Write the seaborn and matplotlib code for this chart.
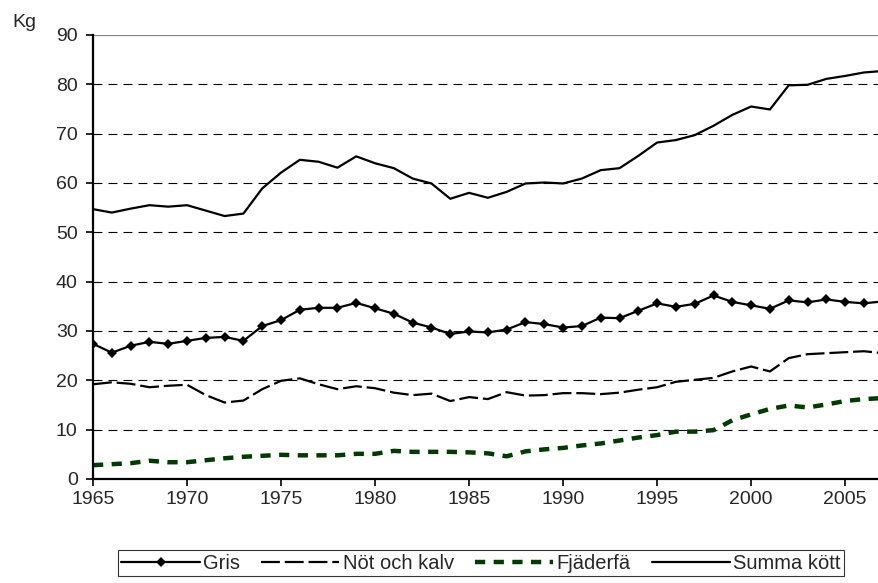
import pandas as pd
import matplotlib
matplotlib.use("Agg")
import matplotlib.pyplot as plt
import seaborn as sns

# Meat consumption per person, kg
years = list(range(1965, 2008))

gris = [27.4, 25.6, 27.0, 27.8, 27.4, 28.0, 28.6, 28.8, 28.0, 31.0,
        32.2, 34.3, 34.7, 34.7, 35.7, 34.6, 33.5, 31.7, 30.7, 29.4,
        29.9, 29.7, 30.3, 31.8, 31.4, 30.7, 31.0, 32.7, 32.6, 34.1,
        35.6, 34.9, 35.5, 37.2, 35.9, 35.2, 34.5, 36.2, 35.8, 36.4,
        35.9, 35.6, 36.0]

not_kalv = [19.2, 19.6, 19.3, 18.6, 18.9, 19.1, 17.0, 15.5, 15.9, 18.2,
            19.9, 20.4, 19.2, 18.2, 18.8, 18.4, 17.5, 17.0, 17.3, 15.8,
            16.6, 16.2, 17.6, 16.9, 17.0, 17.4, 17.4, 17.2, 17.5, 18.1,
            18.6, 19.7, 20.1, 20.5, 21.8, 22.8, 21.8, 24.5, 25.3, 25.5,
            25.7, 25.9, 25.5]

fjaderfa = [2.8, 3.0, 3.2, 3.7, 3.4, 3.4, 3.8, 4.2, 4.5, 4.7,
            4.9, 4.8, 4.8, 4.8, 5.1, 5.1, 5.7, 5.5, 5.5, 5.5,
            5.4, 5.2, 4.6, 5.6, 6.0, 6.3, 6.8, 7.2, 7.8, 8.4,
            8.9, 9.6, 9.6, 9.9, 11.9, 13.1, 14.2, 14.9, 14.5, 15.1,
            15.8, 16.2, 16.4]

summa = [54.7, 54.0, 54.8, 55.5, 55.2, 55.5, 54.4, 53.3, 53.8, 58.9,
         62.1, 64.7, 64.3, 63.1, 65.4, 64.0, 63.0, 60.9, 59.9, 56.8,
         58.0, 57.0, 58.2, 59.9, 60.1, 59.9, 60.9, 62.6, 63.0, 65.5,
         68.2, 68.7, 69.7, 71.6, 73.8, 75.5, 74.9, 79.8, 79.9, 81.1,
         81.7, 82.4, 82.7]

df = pd.DataFrame({"year": years, "Gris": gris, "Nöt och kalv": not_kalv,
                   "Fjäderfä": fjaderfa, "Summa kött": summa})

sns.set_style("white")
plt.rcParams["font.family"] = ["Liberation Sans", "DejaVu Sans"]

fig = plt.figure(figsize=(8.79, 5.83), dpi=100)
ax = fig.add_axes([0.1058, 0.1784, 0.8942, 0.7616])

# gridlines
for v in range(10, 90, 10):
    ax.axhline(v, color="black", lw=0.8, ls=(0, (8, 5.5)), zorder=0)
ax.axhline(90, color="#808080", lw=1.6, zorder=0)

sns.lineplot(data=df, x="year", y="Gris", ax=ax, color="black", lw=1.6,
             marker="D", markersize=5.5, markeredgewidth=0, label="Gris")
sns.lineplot(data=df, x="year", y="Nöt och kalv", ax=ax, color="black",
             lw=1.6, label="Nöt och kalv")
ax.lines[-1].set_linestyle((0, (8.5, 2.2)))
sns.lineplot(data=df, x="year", y="Fjäderfä", ax=ax, color="#003a00",
             lw=3.2, label="Fjäderfä")
ax.lines[-1].set_linestyle((0, (2.3, 1.9)))
sns.lineplot(data=df, x="year", y="Summa kött", ax=ax, color="black",
             lw=1.6, label="Summa kött")

ax.set_xlim(1965, 2006.8)
ax.set_ylim(0, 90)
ax.set_xticks(range(1965, 2006, 5))
ax.set_yticks(range(0, 91, 10))
ax.set_xlabel("")
ax.set_ylabel("")
ax.tick_params(axis="both", labelsize=14, direction="out", length=5,
               width=1.2, color="black", bottom=True, left=True)
ax.tick_params(axis="y", pad=6)
ax.tick_params(axis="x", pad=4)
for side in ["top", "right"]:
    ax.spines[side].set_visible(False)
for side in ["left", "bottom"]:
    ax.spines[side].set_color("black")
    ax.spines[side].set_linewidth(1.6)

fig.text(0.014, 0.962, "Kg", fontsize=14, va="center", ha="left")

leg = ax.legend(loc="center", bbox_to_anchor=(0.4936, -0.19), ncol=4,
                fontsize=14.5, frameon=True, fancybox=False, handlelength=3.9,
                handletextpad=0.15, columnspacing=1.05, borderpad=0.18,
                borderaxespad=0)
leg.get_frame().set_edgecolor("black")
leg.get_frame().set_linewidth(0.8)

fig.savefig("out.png", dpi=100)
